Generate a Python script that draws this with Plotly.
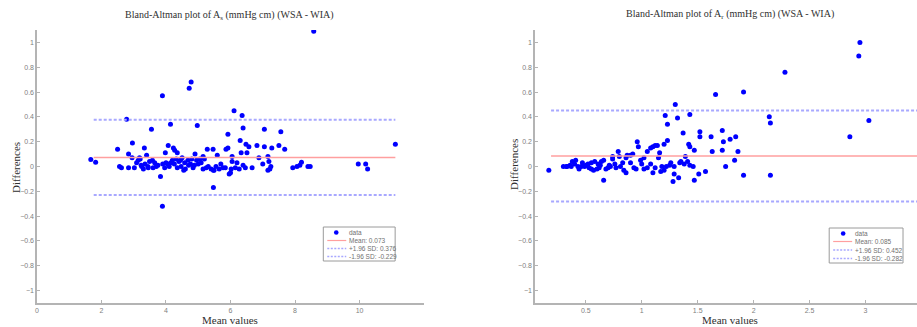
import plotly.graph_objects as go

# ---------------- data: left panel (A_s) ----------------
left_mean_vals = [8.58, 1.67, 1.82, 2.5, 2.78, 2.84, 2.96, 3.33, 3.55, 3.89, 3.98, 4.07, 4.14, 4.23, 4.27,
                  4.35, 4.72, 4.78, 4.97, 5.28, 5.46, 5.59, 5.86, 5.92, 5.92, 6.05, 6.11, 6.3, 6.36, 6.39,
                  6.33, 6.48, 6.51, 6.57, 6.82, 6.88, 7.05, 7.05, 7.16, 7.28, 7.5, 7.56, 7.68, 11.11, 9.96,
                  10.19, 10.25, 7.93, 8.06, 8.15, 8.2, 8.4, 8.47, 3.83, 3.89, 5.47, 4.55, 5.47, 6.0, 6.46,
                  7.16, 3.4, 3.2, 3.14, 3.09, 2.56, 2.62, 2.84, 3.02, 3.23, 3.3, 3.44, 3.49, 3.6, 3.7,
                  3.9, 3.96, 4.0, 4.2, 4.26, 4.32, 4.4, 4.47, 4.58, 4.68, 4.76, 4.84, 4.9, 4.88, 5.0,
                  5.09, 5.19, 5.15, 5.15, 5.31, 5.4, 5.49, 5.77, 5.84, 5.96, 6.02, 6.05, 6.27, 6.39, 6.67,
                  7.0, 7.19, 7.25, 7.22, 3.18, 3.35, 3.65, 3.75, 4.1, 4.15, 4.6, 4.7, 5.55, 5.65, 6.15,
                  2.95, 3.58, 4.45, 4.95, 5.25, 5.7, 6.2, 3.25, 3.45, 4.05, 4.35, 4.5, 4.8, 5.05]
left_diff_vals = [1.09, 0.057, 0.035, 0.14, 0.38, 0.10, 0.19, 0.15, 0.30, 0.57, 0.11, 0.17, 0.34, 0.15, 0.13,
                  0.11, 0.63, 0.68, 0.33, 0.14, 0.14, 0.09, 0.14, 0.26, 0.15, 0.08, 0.45, 0.21, 0.41, 0.31,
                  0.11, 0.18, 0.11, 0.16, 0.17, 0.07, 0.30, 0.16, 0.08, 0.15, 0.17, 0.28, 0.14, 0.18, 0.02,
                  0.02, -0.02, -0.01, 0.0, 0.01, 0.035, 0.0, 0.0, -0.08, -0.32, -0.17, -0.03, -0.03, -0.05, -0.01,
                  -0.03, 0.09, 0.06, 0.05, 0.03, 0.0, -0.01, -0.01, -0.01, 0.01, -0.02, 0.0, 0.04, -0.01, 0.0,
                  0.02, -0.01, 0.03, 0.05, 0.02, 0.06, 0.04, 0.0, 0.03, 0.05, 0.02, -0.01, 0.10, 0.01, 0.02,
                  0.03, 0.06, 0.08, -0.02, 0.0, -0.02, -0.03, -0.01, -0.01, -0.06, -0.02, 0.04, -0.02, 0.01, -0.01,
                  0.02, 0.04, 0.0, -0.02, 0.07, 0.02, 0.03, 0.01, 0.0, 0.03, -0.02, 0.01, 0.0, -0.02, -0.01,
                  0.07, 0.05, 0.05, 0.05, -0.01, 0.02, 0.03, 0.0, -0.01, 0.02, -0.01, 0.07, 0.06, 0.06]
left_bias = 0.073
left_upper = 0.376
left_lower = -0.229
left_line_x = [1.76, 11.11]

# ---------------- data: right panel (A_r) ----------------
right_mean_vals = [2.95, 2.94, 2.28, 1.91, 1.66, 1.30, 1.21, 1.32, 1.43, 1.23, 2.14, 2.15, 3.03, 2.86, 1.37,
                   1.52, 1.52, 1.62, 1.72, 1.73, 1.72, 1.79, 1.84, 1.86, 1.83, 1.75, 1.63, 1.42, 1.43, 1.47,
                   1.39, 1.43, 1.46, 0.96, 0.97, 1.08, 1.10, 1.12, 1.14, 1.20, 1.23, 1.05, 1.16, 1.15, 1.02,
                   0.87, 0.90, 0.92, 0.79, 0.80, 0.86, 0.74, 0.74, 0.71, 0.64, 0.66, 0.63, 0.61, 0.58, 0.55,
                   0.52, 0.47, 0.38, 0.41, 0.36, 0.30, 0.33, 0.17, 1.18, 1.22, 1.25, 1.29, 1.34, 1.26, 0.66,
                   1.28, 1.33, 1.47, 1.51, 1.57, 1.91, 2.15, 1.29, 1.10, 1.17, 1.20, 1.02, 1.05, 0.84, 0.86,
                   0.77, 0.72, 0.70, 0.60, 0.62, 0.57, 0.53, 0.46, 0.43, 0.37, 0.33, 1.00, 0.95, 1.38, 1.41,
                   1.08, 1.12, 0.99, 0.90, 0.81, 0.76, 0.68, 0.55, 0.50, 0.44, 0.40, 1.35, 0.93, 0.83, 0.49]
right_diff_vals = [1.0, 0.89, 0.76, 0.60, 0.58, 0.50, 0.41, 0.39, 0.42, 0.34, 0.40, 0.35, 0.37, 0.24, 0.27,
                   0.28, 0.24, 0.24, 0.29, 0.20, 0.13, 0.22, 0.24, 0.12, 0.05, 0.0, 0.12, 0.18, 0.16, 0.13,
                   0.08, 0.01, 0.0, 0.20, 0.16, 0.15, 0.16, 0.17, 0.17, 0.18, 0.21, 0.12, 0.11, 0.07, 0.07,
                   0.09, 0.09, 0.10, 0.12, 0.08, 0.07, 0.08, 0.06, 0.01, 0.04, 0.05, 0.01, 0.02, 0.04, 0.03,
                   0.02, 0.03, 0.04, 0.05, 0.01, 0.0, 0.0, -0.03, 0.0, 0.0, 0.01, 0.0, 0.03, 0.03, -0.11,
                   -0.12, -0.09, -0.11, -0.06, -0.04, -0.07, -0.07, -0.06, -0.05, -0.04, -0.03, -0.02, -0.01, -0.03, -0.05,
                   -0.01, 0.0, -0.01, -0.02, -0.01, -0.03, -0.01, 0.0, 0.0, 0.0, 0.0, 0.02, -0.02, 0.02, 0.04,
                   0.02, -0.01, 0.05, 0.03, 0.0, 0.02, -0.02, -0.02, 0.01, -0.02, 0.02, 0.04, -0.01, 0.03, 0.0]
right_bias = 0.085
right_upper = 0.452
right_lower = -0.282
right_line_x = [0.19, 3.6]

y_ticks = [-1, -0.8, -0.6, -0.4, -0.2, 0, 0.2, 0.4, 0.6, 0.8, 1]
left_x_ticks = [0, 2, 4, 6, 8, 10]
right_x_ticks = [0.5, 1, 1.5, 2, 2.5, 3]

left_title = "Bland-Altman plot of A<sub>s</sub> (mmHg cm) (WSA - WIA)"
right_title = "Bland-Altman plot of A<sub>r</sub> (mmHg cm) (WSA - WIA)"
x_label = "Mean values"
y_label = "Differences"
legend_labels_left = ["data", f"Mean: {left_bias}", f"+1.96 SD: {left_upper}", f"-1.96 SD: {left_lower}"]
legend_labels_right = ["data", f"Mean: {right_bias}", f"+1.96 SD: {right_upper}", f"-1.96 SD: {right_lower}"]

# ---------------- styles ----------------
BLUE = "#0000ff"
MEAN_COL = "#ff9f9f"
SD_COL = "#a8a8ff"
AX_COL = "#b4b4b4"
TICK_FONT = dict(family="Liberation Sans, Arial, sans-serif", size=7, color="#808080")
SERIF = "Liberation Serif, Times New Roman, serif"
DASH = "3px,2px"

W, H = 917, 327


def px(xp):
    return xp / W


def py(yp):
    return 1 - yp / H


fig = go.Figure()


def add_panel(xv, yv, bias, up, lo, lx, xa, ya):
    fig.add_trace(go.Scatter(x=xv, y=yv, mode="markers", marker=dict(color=BLUE, size=5, line=dict(width=0)),
                             xaxis=xa, yaxis=ya, showlegend=False, hoverinfo="skip"))
    fig.add_trace(go.Scatter(x=lx, y=[bias, bias], mode="lines", line=dict(color=MEAN_COL, width=1.5),
                             xaxis=xa, yaxis=ya, showlegend=False, hoverinfo="skip"))
    for v in (up, lo):
        fig.add_trace(go.Scatter(x=lx, y=[v, v], mode="lines", line=dict(color=SD_COL, width=2, dash=DASH),
                                 xaxis=xa, yaxis=ya, showlegend=False, hoverinfo="skip"))


add_panel(left_mean_vals, left_diff_vals, left_bias, left_upper, left_lower, left_line_x, "x", "y")
add_panel(right_mean_vals, right_diff_vals, right_bias, right_upper, right_lower, right_line_x, "x2", "y2")

ydom = [py(303), py(30)]

axis_common = dict(showgrid=False, zeroline=False, showline=True, linecolor=AX_COL, linewidth=1.5,
                   ticks="inside", ticklen=3, tickcolor=AX_COL, tickfont=TICK_FONT, mirror=False)

fig.update_layout(
    width=W, height=H, margin=dict(l=0, r=0, t=0, b=0),
    paper_bgcolor="white", plot_bgcolor="white", showlegend=False, hovermode=False,
    xaxis=dict(domain=[px(35), px(423)], range=[0, 12], tickvals=left_x_ticks, anchor="y", **axis_common),
    yaxis=dict(domain=ydom, range=[-1.1, 1.1], tickvals=y_ticks, anchor="x", **axis_common),
    xaxis2=dict(domain=[px(534), 1.0], range=[0.045, 3.46], tickvals=right_x_ticks, anchor="y2", **axis_common),
    yaxis2=dict(domain=ydom, range=[-1.1, 1.1], tickvals=y_ticks, anchor="x2", **axis_common),
)

ann_font_t = dict(family=SERIF, size=10, color="#303030")
ann_font_l = dict(family=SERIF, size=11, color="#303030")
annots = [
    dict(text=left_title, x=px(228), y=py(16), font=ann_font_t),
    dict(text=right_title, x=px(730), y=py(15), font=ann_font_t),
    dict(text=x_label, x=px(228), y=py(320), font=ann_font_l),
    dict(text=x_label, x=px(730), y=py(320), font=ann_font_l),
    dict(text=y_label, x=px(14), y=py(167), font=ann_font_l, textangle=-90),
    dict(text=y_label, x=px(513), y=py(164), font=ann_font_l, textangle=-90),
]
for a in annots:
    fig.add_annotation(xref="paper", yref="paper", showarrow=False, xanchor="center", yanchor="middle", **a)


# ---------------- custom compact legends (MATLAB style) ----------------
def add_legend(box, rows, marker_x, line_x0, line_x1, text_x, labels):
    x0, y0, x1, y1 = box
    fig.add_shape(type="rect", xref="paper", yref="paper", x0=px(x0), x1=px(x1), y0=py(y1), y1=py(y0),
                  line=dict(color="#9a9a9a", width=1), fillcolor="white", layer="above")
    r = 2.3
    fig.add_shape(type="circle", xref="paper", yref="paper", x0=px(marker_x - r), x1=px(marker_x + r),
                  y0=py(rows[0] + r), y1=py(rows[0] - r), fillcolor=BLUE, line=dict(width=0), layer="above")
    fig.add_shape(type="line", xref="paper", yref="paper", x0=px(line_x0), x1=px(line_x1), y0=py(rows[1]),
                  y1=py(rows[1]), line=dict(color=MEAN_COL, width=1.2), layer="above")
    for yy in rows[2:]:
        fig.add_shape(type="line", xref="paper", yref="paper", x0=px(line_x0), x1=px(line_x1), y0=py(yy),
                      y1=py(yy), line=dict(color=SD_COL, width=1.5, dash="2px,1.5px"), layer="above")
    for yy, lab in zip(rows, labels):
        fig.add_annotation(xref="paper", yref="paper", x=px(text_x), y=py(yy), text=lab, showarrow=False,
                           xanchor="left", yanchor="middle",
                           font=dict(family="Liberation Sans, Arial, sans-serif", size=6.5, color="#707070"))


add_legend((322, 227, 394, 261), [232.5, 240.5, 248.5, 256.5], 335, 326, 345, 346, legend_labels_left)
add_legend((829, 228, 903, 263), [233.5, 241.5, 250, 258.5], 843, 833, 852, 853, legend_labels_right)

fig.write_html("out.html", config={"displayModeBar": False, "staticPlot": True},
               post_script="document.body.style.margin='0';document.body.style.overflow='hidden';")
